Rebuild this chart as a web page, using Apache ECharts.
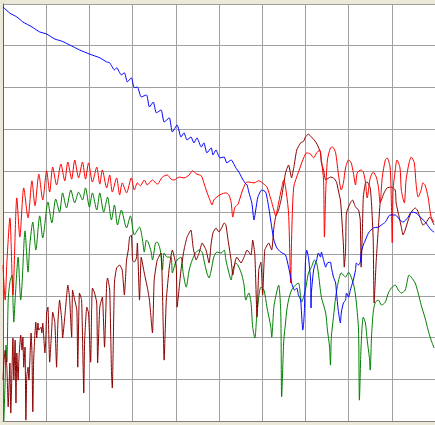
<!DOCTYPE html>
<html>
<head>
<meta charset="utf-8">
<script src="https://cdn.jsdelivr.net/npm/echarts@6/dist/echarts.min.js"></script>
<style>
html,body{margin:0;padding:0;background:#ece9d8;}
#c{width:435px;height:425px;}
</style>
</head>
<body>
<div id="c"></div>
<script>
// x: 0..10 divisions, y: 0..10 divisions
var xTicks = [0,1,2,3,4,5,6,7,8,9,10];
var yTicks = [0,1,2,3,4,5,6,7,8,9,10];

var blueData = [[0.00,9.93],[0.16,9.78],[0.32,9.69],[0.46,9.57],[0.67,9.45],[0.85,9.33],[1.01,9.28],[1.20,9.16],[1.36,9.11],[1.54,9.02],[1.77,8.90],[2.00,8.80],[2.24,8.71],[2.40,8.61],[2.47,8.59],[2.58,8.42],[2.63,8.47],[2.74,8.30],[2.81,8.35],[2.88,8.13],[2.97,8.23],[3.04,7.99],[3.11,8.01],[3.20,7.77],[3.32,7.82],[3.39,7.53],[3.48,7.65],[3.55,7.39],[3.66,7.46],[3.73,7.17],[3.85,7.27],[3.92,6.93],[4.03,7.10],[4.12,6.81],[4.19,6.91],[4.26,6.74],[4.35,6.81],[4.42,6.67],[4.49,6.79],[4.59,6.57],[4.65,6.67],[4.72,6.43],[4.82,6.55],[4.86,6.38],[4.93,6.50],[5.02,6.31],[5.12,6.33],[5.18,6.19],[5.28,6.26],[5.39,6.07],[5.46,5.97],[5.53,5.83],[5.60,5.71],[5.65,5.66],[5.69,5.49],[5.76,5.23],[5.81,4.82],[5.85,5.06],[5.90,5.37],[5.99,5.54],[6.08,5.49],[6.15,5.13],[6.22,4.65],[6.27,4.34],[6.34,4.15],[6.43,4.05],[6.54,3.98],[6.61,3.69],[6.66,3.45],[6.68,3.31],[6.75,3.14],[6.80,3.19],[6.84,3.02],[6.89,2.90],[6.91,2.59],[6.94,2.18],[6.96,2.35],[6.98,2.73],[7.00,3.79],[7.03,4.10],[7.07,3.93],[7.12,3.38],[7.13,2.71],[7.14,3.09],[7.19,3.62],[7.24,3.81],[7.26,3.86],[7.30,4.03],[7.35,3.93],[7.37,4.05],[7.42,3.86],[7.47,3.69],[7.51,3.79],[7.58,3.81],[7.60,3.69],[7.65,3.45],[7.70,3.31],[7.72,3.07],[7.76,2.66],[7.81,2.35],[7.83,2.59],[7.88,2.83],[7.93,2.90],[7.95,3.07],[8.00,2.97],[8.04,3.14],[8.06,3.21],[8.11,3.38],[8.16,3.62],[8.18,3.79],[8.23,3.74],[8.27,3.81],[8.29,4.03],[8.34,4.22],[8.39,4.34],[8.46,4.51],[8.57,4.63],[8.69,4.65],[8.76,4.70],[8.85,4.77],[8.96,4.94],[9.08,4.94],[9.19,4.82],[9.26,4.77],[9.38,4.89],[9.45,5.01],[9.56,4.99],[9.68,4.87],[9.79,4.75],[9.91,4.58],[9.98,4.53]];

var redData = [[0.00,3.74],[0.05,2.90],[0.09,3.81],[0.16,4.87],[0.23,3.02],[0.32,5.35],[0.39,4.41],[0.48,5.59],[0.58,4.87],[0.67,5.76],[0.74,5.16],[0.83,5.92],[0.92,5.30],[1.01,6.00],[1.08,5.49],[1.15,6.09],[1.24,5.66],[1.34,6.16],[1.43,5.76],[1.50,6.21],[1.59,5.80],[1.66,6.26],[1.75,5.83],[1.84,6.21],[1.91,5.80],[1.98,6.19],[2.07,5.73],[2.17,6.09],[2.24,5.68],[2.30,6.02],[2.40,5.59],[2.47,5.90],[2.53,5.49],[2.63,5.83],[2.70,5.42],[2.76,5.71],[2.86,5.47],[2.97,5.83],[3.04,5.54],[3.11,5.71],[3.18,5.64],[3.27,5.78],[3.34,5.66],[3.46,5.78],[3.57,5.68],[3.69,5.85],[3.80,5.90],[3.89,5.80],[3.96,5.78],[4.08,5.85],[4.19,5.83],[4.31,5.90],[4.38,6.00],[4.49,5.92],[4.59,5.88],[4.65,5.71],[4.72,5.49],[4.79,5.30],[4.84,5.18],[4.88,5.30],[4.95,5.37],[5.05,5.44],[5.16,5.47],[5.23,5.42],[5.28,5.25],[5.32,4.89],[5.37,5.13],[5.44,5.20],[5.53,5.49],[5.62,5.71],[5.69,5.73],[5.81,5.71],[5.92,5.76],[6.04,5.68],[6.11,5.61],[6.20,5.32],[6.27,5.06],[6.31,4.92],[6.38,5.23],[6.45,5.59],[6.50,5.78],[6.54,5.61],[6.61,4.99],[6.66,3.31],[6.68,4.34],[6.73,5.61],[6.84,5.97],[6.96,6.31],[7.03,6.43],[7.12,6.40],[7.19,6.31],[7.26,6.43],[7.33,6.50],[7.37,6.26],[7.42,5.78],[7.44,4.41],[7.47,5.47],[7.51,6.26],[7.58,6.55],[7.63,6.57],[7.70,6.43],[7.76,5.95],[7.83,5.54],[7.88,5.71],[7.93,6.07],[8.00,6.26],[8.06,6.19],[8.11,5.95],[8.16,5.66],[8.20,5.95],[8.29,6.02],[8.34,5.97],[8.39,5.73],[8.43,5.35],[8.50,5.83],[8.57,5.97],[8.64,5.85],[8.69,5.61],[8.73,5.23],[8.78,5.85],[8.85,6.26],[8.89,6.31],[8.96,6.09],[8.99,5.23],[9.01,4.27],[9.03,5.54],[9.08,6.02],[9.12,6.26],[9.19,6.07],[9.22,5.54],[9.29,5.23],[9.33,5.78],[9.40,6.19],[9.45,6.33],[9.52,6.19],[9.56,5.71],[9.61,5.37],[9.68,5.54],[9.72,5.71],[9.77,5.66],[9.84,5.37],[9.91,4.89],[9.98,4.77]];

var darkRedData = [[0.00,0.98],[0.02,1.39],[0.05,1.70],[0.09,1.29],[0.12,0.34],[0.16,1.39],[0.18,0.19],[0.23,1.99],[0.25,0.98],[0.28,1.94],[0.30,0.43],[0.32,1.63],[0.35,0.98],[0.37,1.53],[0.41,2.06],[0.44,1.70],[0.46,2.01],[0.48,1.29],[0.51,1.77],[0.53,0.02],[0.55,1.06],[0.58,1.29],[0.60,0.98],[0.65,2.11],[0.67,1.65],[0.69,0.22],[0.71,1.46],[0.74,2.11],[0.76,2.37],[0.78,1.99],[0.81,2.35],[0.83,2.18],[0.88,2.25],[0.90,2.11],[0.92,2.35],[0.97,1.63],[0.99,1.94],[1.01,2.59],[1.04,2.73],[1.08,1.41],[1.13,2.25],[1.15,2.61],[1.20,2.37],[1.24,1.29],[1.27,2.35],[1.31,2.90],[1.36,2.42],[1.38,1.99],[1.43,2.49],[1.47,2.97],[1.50,3.26],[1.54,2.97],[1.59,2.01],[1.61,3.14],[1.66,2.90],[1.71,2.66],[1.73,1.29],[1.77,3.07],[1.82,2.90],[1.87,0.67],[1.89,1.94],[1.94,2.73],[1.98,2.59],[2.03,1.41],[2.05,2.59],[2.07,3.19],[2.12,3.07],[2.17,2.83],[2.19,1.39],[2.24,2.73],[2.30,2.97],[2.35,1.77],[2.40,3.31],[2.42,3.43],[2.47,3.14],[2.51,1.22],[2.53,0.79],[2.58,3.33],[2.63,3.67],[2.70,3.74],[2.76,3.62],[2.81,3.02],[2.86,3.86],[2.90,4.10],[2.93,4.41],[2.97,4.46],[3.00,3.86],[3.04,3.81],[3.09,3.91],[3.11,4.27],[3.16,2.90],[3.20,3.93],[3.27,3.55],[3.34,3.21],[3.39,2.90],[3.46,2.11],[3.50,3.38],[3.57,3.86],[3.66,4.03],[3.73,1.46],[3.78,2.90],[3.85,3.69],[3.92,4.10],[4.01,3.69],[4.03,2.73],[4.08,3.21],[4.12,3.62],[4.19,4.10],[4.26,4.41],[4.35,4.58],[4.40,4.17],[4.47,3.86],[4.54,4.03],[4.61,4.27],[4.70,4.10],[4.77,3.79],[4.82,4.27],[4.86,4.51],[4.93,4.63],[5.00,4.53],[5.07,4.65],[5.12,4.75],[5.16,4.70],[5.21,4.34],[5.28,3.86],[5.32,3.50],[5.37,3.81],[5.41,3.93],[5.51,3.79],[5.58,3.93],[5.65,4.10],[5.74,3.98],[5.78,4.34],[5.83,3.98],[5.88,2.49],[5.92,3.62],[5.97,3.81],[6.01,3.02],[6.06,4.10],[6.15,4.27],[6.22,4.10],[6.27,4.63],[6.31,4.89],[6.38,5.06],[6.45,5.37],[6.54,5.95],[6.61,6.14],[6.68,5.83],[6.73,6.07],[6.80,6.50],[6.89,6.67],[6.96,6.71],[7.00,6.81],[7.07,6.88],[7.14,6.81],[7.24,6.69],[7.30,6.57],[7.35,6.43],[7.37,6.19],[7.42,6.02],[7.47,5.78],[7.58,5.85],[7.65,5.83],[7.72,5.73],[7.76,5.54],[7.81,5.30],[7.83,5.06],[7.88,4.22],[7.90,3.69],[7.93,4.10],[7.95,4.99],[8.04,5.23],[8.09,5.30],[8.16,5.13],[8.23,5.06],[8.27,4.82],[8.29,3.69],[8.32,4.58],[8.34,5.37],[8.39,5.71],[8.43,5.73],[8.50,5.59],[8.53,5.23],[8.57,4.34],[8.59,2.83],[8.64,3.86],[8.69,4.65],[8.73,5.23],[8.76,5.30],[8.82,5.47],[8.89,5.59],[8.99,5.61],[9.08,5.54],[9.10,5.23],[9.17,4.89],[9.22,4.65],[9.26,4.46],[9.31,4.58],[9.38,4.82],[9.45,5.01],[9.54,5.11],[9.59,5.06],[9.65,4.89],[9.72,4.70],[9.79,4.75],[9.88,4.89],[9.98,4.70]];

var greenData = [[0.02,0.00],[0.05,0.98],[0.07,1.82],[0.09,1.41],[0.12,2.90],[0.16,3.33],[0.21,3.50],[0.23,2.90],[0.25,2.37],[0.28,2.90],[0.35,3.93],[0.41,2.90],[0.44,3.26],[0.51,4.56],[0.58,3.57],[0.62,4.22],[0.69,4.77],[0.76,4.10],[0.85,4.92],[0.92,4.39],[1.04,5.25],[1.13,4.75],[1.22,5.32],[1.31,5.01],[1.38,5.47],[1.47,5.11],[1.57,5.54],[1.66,5.23],[1.75,5.49],[1.84,5.30],[1.91,5.59],[2.00,5.13],[2.07,5.47],[2.17,5.06],[2.24,5.47],[2.33,5.01],[2.42,5.37],[2.51,4.82],[2.58,5.18],[2.65,4.70],[2.74,5.06],[2.86,4.63],[2.95,4.92],[3.04,4.46],[3.16,4.65],[3.23,4.34],[3.27,4.05],[3.32,4.34],[3.36,4.29],[3.43,4.05],[3.46,3.86],[3.53,4.27],[3.57,4.29],[3.64,4.10],[3.69,3.62],[3.73,4.03],[3.80,3.93],[3.89,3.93],[3.92,3.55],[3.99,3.79],[4.03,3.86],[4.12,3.93],[4.17,3.55],[4.24,3.21],[4.31,3.62],[4.38,3.86],[4.47,4.05],[4.54,4.10],[4.61,4.05],[4.65,3.86],[4.72,3.55],[4.77,3.43],[4.82,3.62],[4.88,3.93],[4.95,4.05],[5.05,4.03],[5.12,4.10],[5.16,3.86],[5.23,3.55],[5.28,3.38],[5.32,3.62],[5.39,3.79],[5.46,3.69],[5.53,3.50],[5.58,3.26],[5.62,2.90],[5.69,3.07],[5.74,2.85],[5.78,2.25],[5.83,1.99],[5.88,2.59],[5.97,3.21],[6.04,3.14],[6.11,2.73],[6.20,2.25],[6.22,2.01],[6.27,2.73],[6.31,2.97],[6.38,3.26],[6.43,2.59],[6.45,0.58],[6.50,1.94],[6.54,2.35],[6.57,2.66],[6.61,2.90],[6.68,3.14],[6.77,3.26],[6.84,3.31],[6.89,2.97],[6.91,2.85],[7.00,3.14],[7.07,3.55],[7.14,3.69],[7.21,3.86],[7.26,3.79],[7.30,3.55],[7.37,2.97],[7.47,2.59],[7.51,2.18],[7.56,1.77],[7.58,1.34],[7.60,2.01],[7.65,2.49],[7.70,2.97],[7.76,3.33],[7.83,3.55],[7.93,3.45],[8.00,3.57],[8.06,3.45],[8.13,3.21],[8.18,2.83],[8.23,2.18],[8.25,0.50],[8.29,1.82],[8.34,2.49],[8.39,2.35],[8.43,1.94],[8.48,1.53],[8.50,1.22],[8.53,2.01],[8.57,2.61],[8.62,2.85],[8.69,2.90],[8.76,2.78],[8.85,2.85],[8.92,3.07],[8.99,3.19],[9.08,3.26],[9.15,3.14],[9.22,3.07],[9.31,3.14],[9.40,3.50],[9.45,3.45],[9.54,3.31],[9.61,3.07],[9.68,2.78],[9.77,2.47],[9.84,2.18],[9.91,1.94],[9.98,1.75]];

var chart = echarts.init(document.getElementById('c'), null, {renderer:'canvas'});
function mk(name, data, color, smooth){
  return {name:name, type:'line', data:data, showSymbol:false, symbol:'none', smooth:smooth,
    lineStyle:{color:color, width:1}, itemStyle:{color:color}, animation:false, silent:true, clip:true};
}
chart.setOption({
  backgroundColor:'#ece9d8',
  animation:false,
  grid:{left:3, top:4, width:434, height:417, show:true, backgroundColor:'#ffffff', borderWidth:0},
  xAxis:{type:'value', min:xTicks[0], max:xTicks[xTicks.length-1], interval:1,
    axisLabel:{show:false}, axisTick:{show:false},
    axisLine:{show:true, lineStyle:{color:'#808080', width:1}},
    splitLine:{show:true, lineStyle:{color:'#a0a0a0', width:1}}},
  yAxis:{type:'value', min:yTicks[0], max:yTicks[yTicks.length-1], interval:1,
    axisLabel:{show:false}, axisTick:{show:false},
    axisLine:{show:true, lineStyle:{color:'#606060', width:1}},
    splitLine:{show:true, lineStyle:{color:'#a0a0a0', width:1}}},
  series:[
    mk('green', greenData, '#008000', 0.25),
    mk('darkred', darkRedData, '#8b0000', 0.15),
    mk('red', redData, '#ff0000', 0.25),
    mk('blue', blueData, '#0000ff', 0.2)
  ]
});
</script>
</body>
</html>
